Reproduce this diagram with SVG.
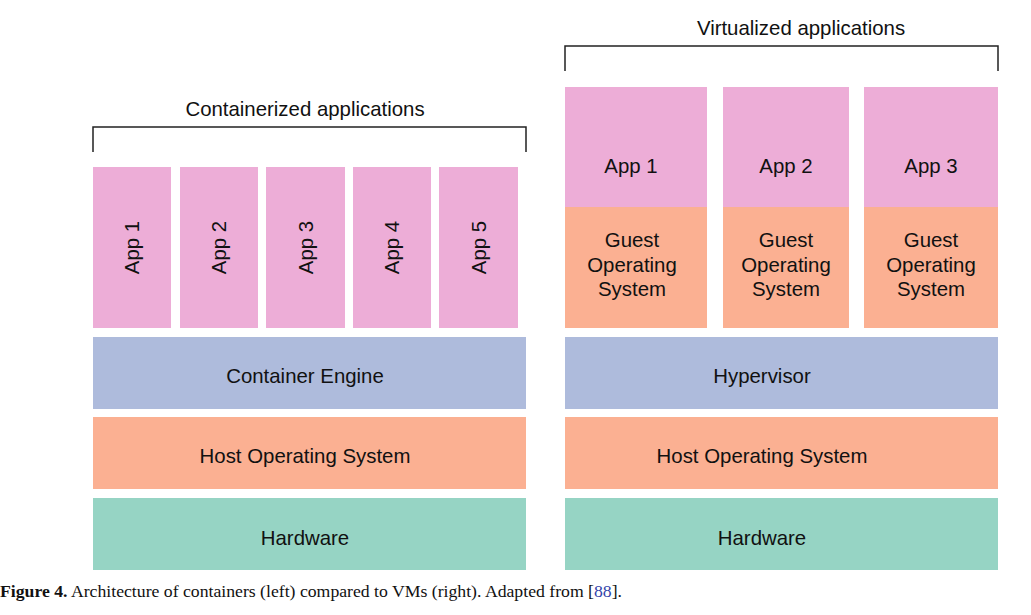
<svg xmlns="http://www.w3.org/2000/svg" width="1031" height="615" viewBox="0 0 1031 615">
<style>
.t{font-family:"Liberation Sans",Arial,sans-serif;font-size:20.4px;fill:#111;text-anchor:middle}
.app{fill:#EDADD7}
.os{fill:#FBB092}
.eng{fill:#AEBBDC}
.hw{fill:#96D4C4}
.br{fill:none;stroke:#222;stroke-width:1.5}
.cap{font-family:"Liberation Serif","Times New Roman",serif;font-size:16px;fill:#111}
</style>
<rect width="1031" height="615" fill="#fff"/>
<g id="connectors">
<path class="br" d="M93,152 V127 H526 V152"/>
<path class="br" d="M565,71 V46 H998 V71"/>
</g>
<g id="containerized-label"><text class="t" x="305" y="116">Containerized applications</text></g>
<g id="virtualized-label"><text class="t" x="801" y="35">Virtualized applications</text></g>
<g id="c-app1"><rect class="app" x="93" y="167" width="78" height="161"/><text class="t" transform="translate(132,247.5) rotate(-90)" y="7">App 1</text></g>
<g id="c-app2"><rect class="app" x="180" y="167" width="78" height="161"/><text class="t" transform="translate(219,247.5) rotate(-90)" y="7">App 2</text></g>
<g id="c-app3"><rect class="app" x="266" y="167" width="79" height="161"/><text class="t" transform="translate(305.5,247.5) rotate(-90)" y="7">App 3</text></g>
<g id="c-app4"><rect class="app" x="353" y="167" width="78" height="161"/><text class="t" transform="translate(392,247.5) rotate(-90)" y="7">App 4</text></g>
<g id="c-app5"><rect class="app" x="439" y="167" width="79" height="161"/><text class="t" transform="translate(478.5,247.5) rotate(-90)" y="7">App 5</text></g>
<g id="container-engine"><rect class="eng" x="93" y="337" width="433" height="72"/><text class="t" x="305" y="383">Container Engine</text></g>
<g id="c-host-os"><rect class="os" x="93" y="417" width="433" height="72"/><text class="t" x="305" y="463">Host Operating System</text></g>
<g id="c-hardware"><rect class="hw" x="93" y="498" width="433" height="72"/><text class="t" x="305" y="545">Hardware</text></g>
<g id="v-app1"><rect class="app" x="565" y="87" width="142" height="121"/><text class="t" x="631" y="173">App 1</text></g>
<g id="v-guest1"><rect class="os" x="565" y="207" width="142" height="121"/><text class="t" x="632" y="247">Guest</text><text class="t" x="632" y="272">Operating</text><text class="t" x="632" y="296">System</text></g>
<g id="v-app2"><rect class="app" x="723" y="87" width="126" height="121"/><text class="t" x="786" y="173">App 2</text></g>
<g id="v-guest2"><rect class="os" x="723" y="207" width="126" height="121"/><text class="t" x="786" y="247">Guest</text><text class="t" x="786" y="272">Operating</text><text class="t" x="786" y="296">System</text></g>
<g id="v-app3"><rect class="app" x="864" y="87" width="134" height="121"/><text class="t" x="931" y="173">App 3</text></g>
<g id="v-guest3"><rect class="os" x="864" y="207" width="134" height="121"/><text class="t" x="931" y="247">Guest</text><text class="t" x="931" y="272">Operating</text><text class="t" x="931" y="296">System</text></g>
<g id="hypervisor"><rect class="eng" x="565" y="337" width="433" height="72"/><text class="t" x="762" y="383">Hypervisor</text></g>
<g id="v-host-os"><rect class="os" x="565" y="417" width="433" height="72"/><text class="t" x="762" y="463">Host Operating System</text></g>
<g id="v-hardware"><rect class="hw" x="565" y="498" width="433" height="72"/><text class="t" x="762" y="545">Hardware</text></g>
<g id="caption"><text class="cap" x="0" y="597" textLength="622" lengthAdjust="spacingAndGlyphs"><tspan font-weight="bold">Figure 4.</tspan> Architecture of containers (left) compared to VMs (right). Adapted from [<tspan fill="#3344AA">88</tspan>].</text></g>
</svg>
